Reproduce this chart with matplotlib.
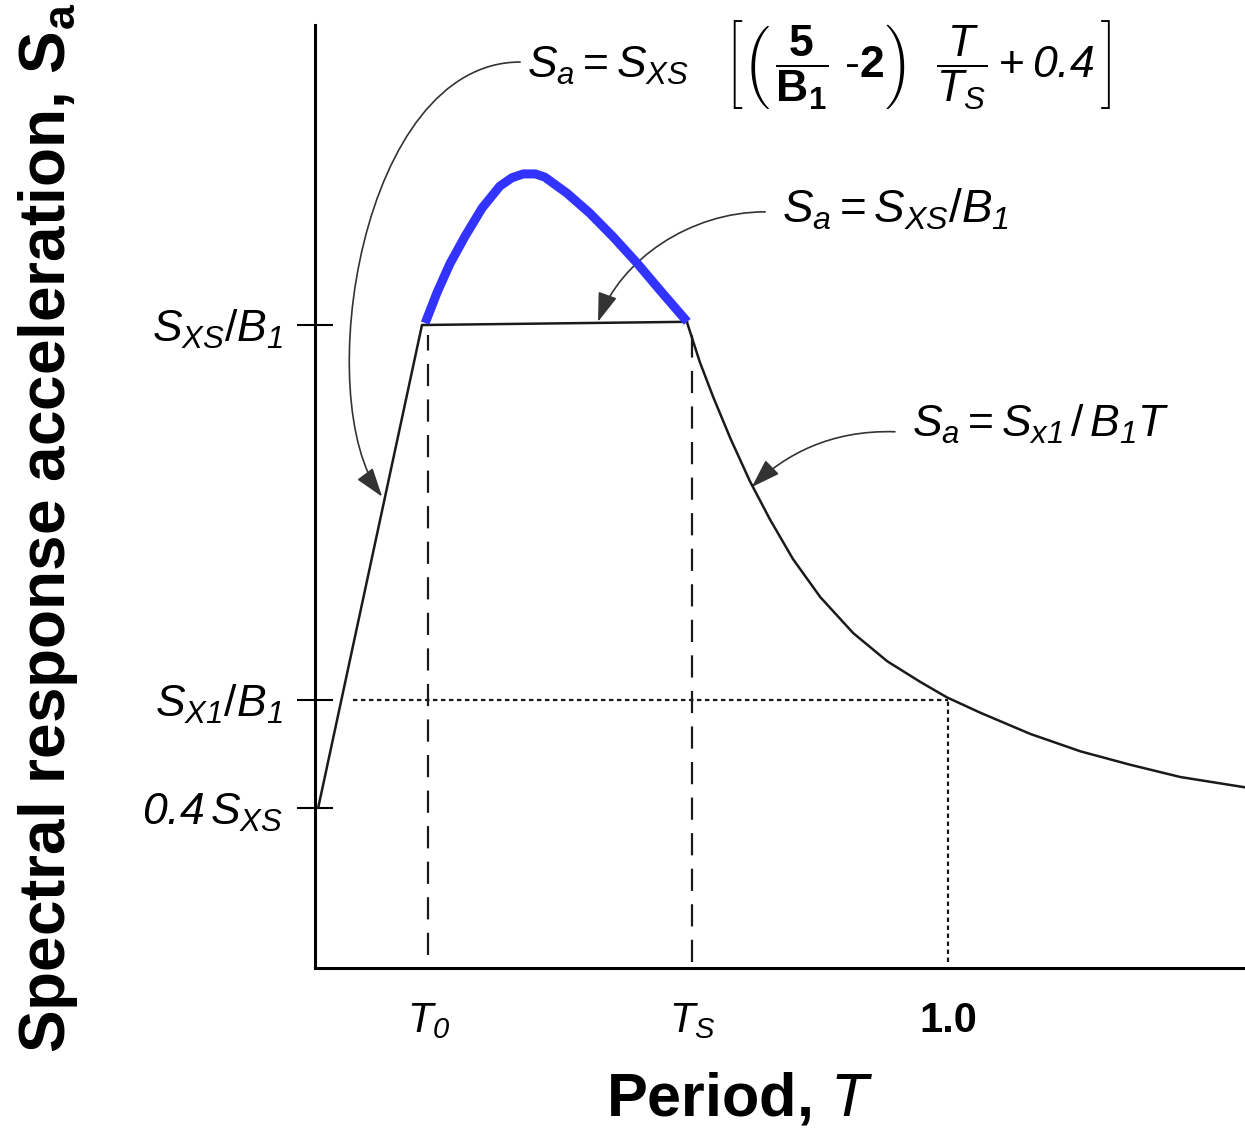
import matplotlib
matplotlib.use("Agg")
import matplotlib.pyplot as plt
from matplotlib.path import Path
from matplotlib.patches import FancyArrowPatch

plt.rcParams["font.family"] = ["Liberation Sans", "DejaVu Sans"]
plt.rcParams["mathtext.fontset"] = "custom"
plt.rcParams["mathtext.rm"] = "Liberation Sans"
plt.rcParams["mathtext.it"] = "Liberation Sans:italic"
plt.rcParams["mathtext.bf"] = "Liberation Sans:bold"
# \mathsf used for italic digits (mathtext forces digits in \mathit upright)
plt.rcParams["mathtext.sf"] = "Liberation Sans:italic"

# design spectrum (T: period, Sa normalised so Sxs/B1 = 1)
T_ramp = [0.005, 0.169]
Sa_ramp = [0.249, 1.0]
T_plateau = [0.169, 0.588]
Sa_plateau = [1.0, 1.005]
T_desc = [0.588, 0.608, 0.629, 0.656, 0.687, 0.719, 0.755, 0.798, 0.850,
          0.904, 0.956, 0.998, 1.051, 1.130, 1.209, 1.288, 1.367, 1.469]
Sa_desc = [1.003, 0.942, 0.888, 0.824, 0.757, 0.697, 0.636, 0.577, 0.521,
           0.477, 0.445, 0.421, 0.397, 0.364, 0.337, 0.316, 0.297, 0.281]
T_blue = [0.174, 0.193, 0.213, 0.237, 0.264, 0.292, 0.311, 0.329, 0.348,
          0.363, 0.398, 0.434, 0.471, 0.509, 0.545, 0.588]
Sa_blue = [1.003, 1.051, 1.095, 1.138, 1.182, 1.216, 1.229, 1.235, 1.235,
           1.230, 1.205, 1.174, 1.137, 1.096, 1.054, 1.005]

T0, Ts, T1 = 0.179, 0.596, 1.0
Sa_xs, Sa_x1, Sa_04 = 1.0, 0.417, 0.249

ytick_vals = [Sa_xs, Sa_x1, Sa_04]
ytick_labels = [r"$S_{XS}/B_\mathsf{1}$", r"$S_{X\mathsf{1}}/B_\mathsf{1}$",
                r"$\mathsf{0.4}\,S_{XS}$"]
xtick_vals = [T0, Ts, T1]
xtick_labels = [r"$T_\mathsf{0}$", r"$T_S$", "1.0"]

fig = plt.figure(figsize=(12.45, 11.31), dpi=100)
ax = fig.add_axes([315 / 1245, 163 / 1131, 930 / 1245, 943 / 1131])
ax.set_xlim(0, 1.469)
ax.set_ylim(0, 1.4666)

for s in ["top", "right"]:
    ax.spines[s].set_visible(False)
for s in ["left", "bottom"]:
    ax.spines[s].set_linewidth(2.2)

k = dict(color="#1a1a1a", lw=1.8, solid_capstyle="round", solid_joinstyle="round")
ax.plot(T_ramp, Sa_ramp, **k)
ax.plot(T_plateau, Sa_plateau, **k)
ax.plot(T_desc, Sa_desc, **k)

# guide lines
ax.plot([T0, T0], [0.02, 0.985], color="#1a1a1a", lw=1.6, ls=(0, (10, 6)))
ax.plot([Ts, Ts], [0.01, 0.985], color="#1a1a1a", lw=1.6, ls=(0, (10, 6)))
ax.plot([0.06, T1], [Sa_x1, Sa_x1], color="#1a1a1a", lw=1.6, ls=(0, (2, 1.6)))
ax.plot([T1, T1], [0.01, Sa_x1], color="#1a1a1a", lw=1.6, ls=(0, (2, 1.6)))

ax.plot(T_blue, Sa_blue, color="#3333ff", lw=6.5, solid_capstyle="butt",
        solid_joinstyle="round")

ax.set_yticks(ytick_vals)
ax.set_yticklabels(ytick_labels, fontsize=32)
ax.tick_params(axis="y", direction="inout", length=26, width=1.5, pad=10)
ax.set_xticks(xtick_vals)
ax.set_xticklabels(xtick_labels, fontsize=30)
ax.get_xticklabels()[2].set_fontweight("bold")
ax.tick_params(axis="x", length=0, pad=24)

fig.text(740 / 1245, 1 - 1100 / 1131, r"Period, $\mathit{T}$", fontsize=44,
         fontweight="bold", ha="center", va="center")
fig.text(48 / 1245, 1 - 528 / 1131,
         r"Spectral response acceleration, $\mathbf{S}_\mathbf{a}$",
         fontsize=46, fontweight="bold", rotation=90, ha="center", va="center")

# formulas
ax.text(0.335, 1.405,
        r"$S_a = S_{XS}\quad\left[\left(\,\dfrac{\mathbf{5}}{\mathbf{B}_\mathbf{1}}\ \mathbf{\text{-}2}\right)\ \ \dfrac{T}{T_S} + \mathsf{0.4}\,\right]$",
        fontsize=32, va="center", ha="left")
ax.text(0.738, 1.179, r"$S_a = S_{XS}/B_\mathsf{1}$", fontsize=33, va="center", ha="left")
ax.text(0.943, 0.845, r"$S_a = S_{x\mathsf{1}}\,/\,B_\mathsf{1}T$", fontsize=32,
        va="center", ha="left")

arrows = [
    [(0.324, 1.409), (0.071, 1.409), (-0.008, 0.883), (0.106, 0.733)],
    [(0.711, 1.176), (0.592, 1.176), (0.482, 1.101), (0.447, 1.005)],
    [(0.916, 0.834), (0.814, 0.837), (0.742, 0.798), (0.690, 0.748)],
]
for pts in arrows:
    p = Path(pts, [Path.MOVETO, Path.CURVE4, Path.CURVE4, Path.CURVE4])
    a = FancyArrowPatch(path=p, arrowstyle="-|>,head_length=0.9,head_width=0.3",
                        mutation_scale=20, color="#333333", lw=1.2,
                        transform=ax.transData, clip_on=False)
    ax.add_patch(a)

fig.savefig("out.png", dpi=100)
